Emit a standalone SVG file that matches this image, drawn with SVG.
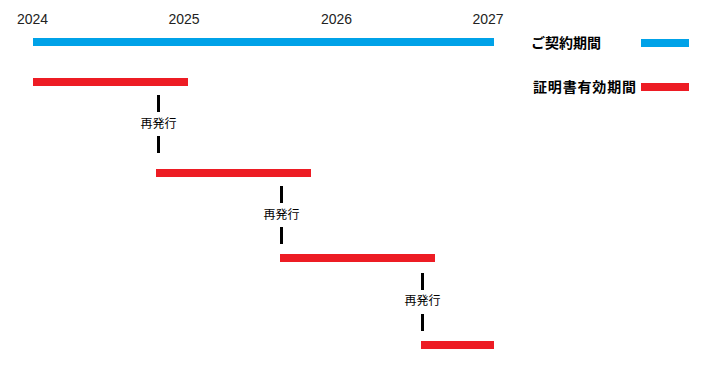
<svg xmlns="http://www.w3.org/2000/svg" width="708" height="368" viewBox="0 0 708 368">
<style>
.yr{font-family:"Liberation Sans",Arial,sans-serif;font-size:14px;fill:#222;text-anchor:middle}
.lg{font-family:"Noto Sans CJK JP","Noto Sans CJK SC",sans-serif;font-size:14px;font-weight:bold;fill:#000}
.rl{font-family:"Noto Sans CJK JP","Noto Sans CJK SC",sans-serif;font-size:12px;fill:#000;text-anchor:middle}
.blue{fill:#00A2E8}
.red{fill:#ED1C24}
.dash{stroke:#000;stroke-width:3;fill:none}
</style>
<rect width="708" height="368" fill="#fff"/>
<g id="years">
<text class="yr" x="32.5" y="24">2024</text>
<text class="yr" x="184" y="24">2025</text>
<text class="yr" x="336.5" y="24">2026</text>
<text class="yr" x="488" y="24">2027</text>
</g>
<g id="contract"><rect class="blue" x="33" y="38" width="461" height="8"/></g>
<g id="cert1"><rect class="red" x="33" y="78" width="155" height="8"/></g>
<g id="cert2"><rect class="red" x="156" y="169" width="155" height="8"/></g>
<g id="cert3"><rect class="red" x="280" y="254" width="155" height="8"/></g>
<g id="cert4"><rect class="red" x="421" y="341" width="73" height="8"/></g>
<g id="connectors">
<line class="dash" x1="158.5" y1="95" x2="158.5" y2="112"/>
<line class="dash" x1="158.5" y1="136" x2="158.5" y2="153"/>
<line class="dash" x1="281.5" y1="186" x2="281.5" y2="203"/>
<line class="dash" x1="281.5" y1="227" x2="281.5" y2="244"/>
<line class="dash" x1="422.5" y1="273" x2="422.5" y2="290"/>
<line class="dash" x1="422.5" y1="314" x2="422.5" y2="331"/>
</g>
<g id="reissue1"><text class="rl" x="158.5" y="128">再発行</text></g>
<g id="reissue2"><text class="rl" x="281.5" y="219">再発行</text></g>
<g id="reissue3"><text class="rl" x="422.5" y="305">再発行</text></g>
<g id="legend-contract">
<text class="lg" x="531" y="48">ご契約期間</text>
<rect class="blue" x="641" y="39" width="48" height="8"/>
</g>
<g id="legend-cert">
<text class="lg" x="533" y="92" textLength="103">証明書有効期間</text>
<rect class="red" x="641" y="83" width="48" height="8"/>
</g>
</svg>
